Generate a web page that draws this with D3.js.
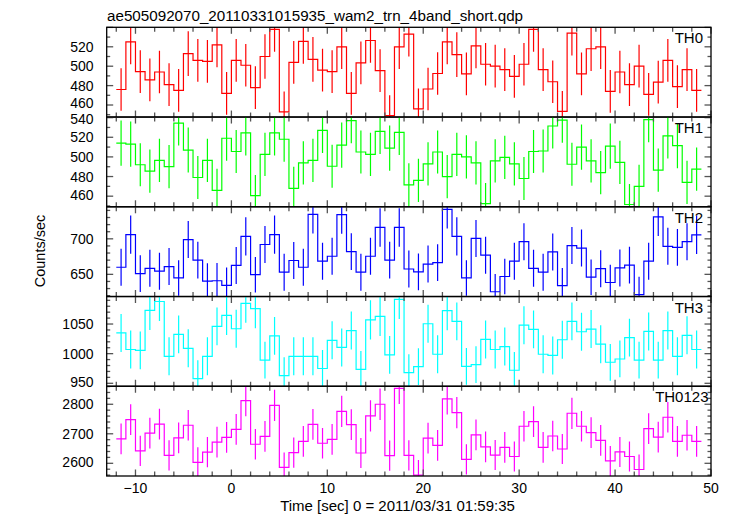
<!DOCTYPE html>
<html><head><meta charset="utf-8">
<script src="https://cdn.jsdelivr.net/npm/d3@7"></script>
<style>
html,body{margin:0;padding:0;background:#fff;}
svg{display:block;font-family:"Liberation Sans",Arial,Helvetica,sans-serif;}
</style></head>
<body>
<svg id="chart" width="733" height="516"></svg>
<script>
// ---------------- data ----------------
const title = "ae505092070_20110331015935_wam2_trn_4band_short.qdp";
const xLabel = "Time [sec] 0 = 2011/03/31 01:59:35";
const yLabel = "Counts/sec";
const xDomain = [-13, 50];
const xTickLabels = [-10, 0, 10, 20, 30, 40, 50];
const binHalfWidth = 0.5;
const time = [-11.5,-10.5,-9.5,-8.5,-7.5,-6.5,-5.5,-4.5,-3.5,-2.5,
  -1.5,-0.5,0.5,1.5,2.5,3.5,4.5,5.5,6.5,7.5,
  8.5,9.5,10.5,11.5,12.5,13.5,14.5,15.5,16.5,17.5,
  18.5,19.5,20.5,21.5,22.5,23.5,24.5,25.5,26.5,27.5,
  28.5,29.5,30.5,31.5,32.5,33.5,34.5,35.5,36.5,37.5,
  38.5,39.5,40.5,41.5,42.5,43.5,44.5,45.5,46.5,47.5,48.5];

const seriesNames = ["TH0", "TH1", "TH2", "TH3", "TH0123"];
const seriesColors = ["#ff0000", "#00ff00", "#0000ff", "#00ffff", "#ff00ff"];

const th0 = [476,525,494.5,486,494,481,475,513,506,505,
  522,472,506,501,478,510,538,453,504,525.5,
  507,496,494.5,520,472,503.5,526.5,495.5,449,520,
  533,456,476.5,492.5,525,512,492,521,502,500,
  496.5,489.5,502,538,496.5,484,453.5,534,492,518,
  520,474,494,481,500,471,483.5,506,479,496.5,475];
const th0Err = [22,23,22,22,22,22,22,23,22,22,
  23,22,22,22,22,23,23,21,22,23,
  23,22,22,23,22,22,23,22,21,23,
  23,21,22,22,23,23,22,23,22,22,
  22,22,22,23,22,22,21,23,22,23,
  23,22,22,22,22,22,22,22,22,22,22];

const th1 = [514,513,492,485.5,496.5,490,534.5,507,479,496.5,
  466,519,505.5,524.5,460.5,502.5,524.5,518,468,494,
  496.5,527,490.5,512,537,505,502.5,526,509,525,
  471.5,476,493,505,480,502.5,500,494,452.5,496,
  499.5,493,478,505.5,506,531.5,537.5,492.5,510,496,
  484,511,494.5,451.5,470,538,486.5,521.5,511.5,474,487.5];
const th1Err = [23,23,22,22,22,22,23,23,22,22,
  22,23,22,23,21,22,23,23,22,22,
  22,23,22,23,23,22,22,23,23,23,
  22,22,22,22,22,22,22,22,21,22,
  22,22,22,22,22,23,23,22,23,22,
  22,23,22,21,22,23,22,23,23,22,22];

const th2 = [660,706,651,658.5,654.5,661,645,699,670,640.5,
  641,634.5,662.5,703.5,649.5,692,706,653,669.5,660,
  734.5,668.5,675.5,734,682,653,675.5,716,670,716,
  657.5,653.5,664.5,666.5,741.5,703.5,645,700.5,677,625.5,
  647,668.5,696,658.5,653,681.5,634,690.5,687,646,
  658,638.5,659,663,621.5,668.5,731,689.5,688,696,705.5];
const th2Err = [26,27,26,26,26,26,25,26,26,25,
  25,25,26,27,25,26,27,26,26,26,
  27,26,26,27,26,26,26,27,26,27,
  26,26,26,26,27,27,25,26,26,25,
  25,26,26,26,26,26,25,26,26,25,
  26,25,26,26,25,26,27,26,26,26,27];

const th3 = [1035,1007,1005.5,1073,1088,995.5,1032.5,1009,958,995.5,
  1046,1064.5,1042,1085,1076,989,1030,963,995.5,995.5,
  995.5,975,1022.5,1010.5,1039,973.5,1057,1063,998,1091.5,
  968,978,1050.5,999,1072.5,1054.5,978.5,981.5,1024,1007,
  1012,972,1048,1041,999,997,1023.5,1054.5,1037,1041.5,
  1016,985.5,991,1027,989,1037.5,989,1039,995.5,1031,1007];
const th3Err = [32,32,32,33,33,32,32,32,31,32,
  32,33,32,33,33,31,32,31,32,32,
  32,31,32,32,32,31,33,33,32,33,
  31,31,32,32,33,32,31,31,32,32,
  32,31,32,32,32,32,32,32,32,32,
  32,31,31,32,31,32,31,32,32,32,32];

const th0123 = [2682.5,2748,2642,2702,2733,2627,2686,2729,2603,2638,
  2672,2688,2715,2812.5,2664.5,2691.5,2796.5,2586,2636,2674.5,
  2732,2668,2681,2776,2731,2635,2760.5,2800,2626,2854,
  2627,2560,2685,2661,2818,2772,2613.5,2696,2655.5,2628,
  2654,2623,2725.5,2741,2654,2692.5,2648.5,2769.5,2725.5,2704,
  2678,2608,2638.5,2623,2579,2717.5,2689,2756,2674.5,2695,2674.5];
const th0123Err = [52,52,51,52,52,51,52,52,51,51,
  52,52,52,53,52,52,53,51,51,52,
  52,52,52,53,52,51,53,53,51,53,
  51,51,52,52,53,53,51,52,52,51,
  52,51,52,52,52,52,51,53,52,52,
  52,51,51,51,51,52,52,52,52,52,52];

const yDomains = [[447.6, 540.1], [449.2, 540.6], [618.8, 745.1], [945, 1096.4], [2557, 2861]];
const yTickLabels = [[460,480,500,520],[460,480,500,520,540],[650,700],[950,1000,1050],[2600,2700,2800]];
const yMajorStep = [20, 20, 50, 50, 100];
const yMinorStep = [10, 10, 10, 10, 20];

const values = [th0, th1, th2, th3, th0123];
const errors = [th0Err, th1Err, th2Err, th3Err, th0123Err];

// ---------------- layout ----------------
const W = 733, H = 516;
const plotL = 106.7, plotR = 711, plotT = 27.3, plotB = 476;
const nP = 5;
const pH = (plotB - plotT) / nP;
const labelRight = [703, 703, 703, 703, 708.5];

const svg = d3.select("#chart");
const x = d3.scaleLinear().domain(xDomain).range([plotL, plotR]);

const defs = svg.append("defs");

for (let p = 0; p < nP; p++) {
  const top = plotT + p * pH, bot = top + pH;
  const y = d3.scaleLinear().domain(yDomains[p]).range([bot, top]);
  const g = svg.append("g");
  const clipId = "clip" + p;
  defs.append("clipPath").attr("id", clipId)
    .append("rect").attr("x", plotL).attr("y", top).attr("width", plotR - plotL).attr("height", pH);

  const data = time.map((t, i) => ({t, v: values[p][i], e: errors[p][i]}));
  const dg = g.append("g").attr("clip-path", `url(#${clipId})`);
  // step line
  const pts = [];
  data.forEach(d => { pts.push([d.t - binHalfWidth, d.v]); pts.push([d.t + binHalfWidth, d.v]); });
  const line = d3.line().x(d => x(d[0])).y(d => y(d[1]));
  dg.append("path").attr("d", line(pts)).attr("fill", "none")
    .attr("stroke", seriesColors[p]).attr("stroke-width", 1.2);
  // error bars
  dg.selectAll("line.err").data(data).join("line").attr("class", "err")
    .attr("x1", d => x(d.t)).attr("x2", d => x(d.t))
    .attr("y1", d => y(d.v - d.e)).attr("y2", d => y(d.v + d.e))
    .attr("stroke", seriesColors[p]).attr("stroke-width", 1.2);

  // x ticks (top and bottom, inward)
  const xt = d3.range(-12, 50.01, 2);
  xt.forEach(t => {
    const len = (t % 10 === 0) ? 6.5 : 4.5;
    g.append("line").attr("x1", x(t)).attr("x2", x(t)).attr("y1", top).attr("y2", top + len)
      .attr("stroke", "#555").attr("stroke-width", 1.3);
    g.append("line").attr("x1", x(t)).attr("x2", x(t)).attr("y1", bot).attr("y2", bot - len)
      .attr("stroke", "#555").attr("stroke-width", 1.3);
  });
  // y ticks (left and right, inward)
  const [y0, y1] = yDomains[p];
  const ms = yMinorStep[p];
  for (let v = Math.ceil(y0 / ms) * ms; v <= y1; v += ms) {
    const major = (v % yMajorStep[p] === 0);
    const len = major ? 6.5 : 3.5;
    g.append("line").attr("x1", plotL).attr("x2", plotL + len).attr("y1", y(v)).attr("y2", y(v))
      .attr("stroke", "#555").attr("stroke-width", 1.3);
    g.append("line").attr("x1", plotR).attr("x2", plotR - len).attr("y1", y(v)).attr("y2", y(v))
      .attr("stroke", "#555").attr("stroke-width", 1.3);
  }
  // y tick labels (nudge labels that sit right at a panel boundary apart)
  g.selectAll("text.yl").data(yTickLabels[p]).join("text").attr("class", "yl")
    .attr("x", 93.5)
    .attr("y", d => {
      let yy = y(d) + 5;
      if (y(d) > bot - 14) yy -= 1.6;
      if (y(d) < top + 3) yy += 1.6;
      return yy;
    })
    .attr("text-anchor", "end")
    .attr("font-size", 14).attr("fill", "#000").text(d => d);
  // frame
  g.append("rect").attr("x", plotL).attr("y", top).attr("width", plotR - plotL).attr("height", pH)
    .attr("fill", "none").attr("stroke", "#000").attr("stroke-width", 1.3);
  // panel label
  g.append("text").attr("x", labelRight[p]).attr("y", top + 16).attr("text-anchor", "end")
    .attr("font-size", 15).attr("fill", "#000").text(seriesNames[p]);
}

// x tick labels
svg.selectAll("text.xl").data(xTickLabels).join("text").attr("class", "xl")
  .attr("x", d => x(d)).attr("y", 493).attr("text-anchor", "middle")
  .attr("font-size", 14).attr("fill", "#000")
  .text(d => d < 0 ? "\u2212" + Math.abs(d) : d);

// title
svg.append("text").attr("x", 107).attr("y", 20.5).attr("font-size", 15.2).attr("fill", "#000").text(title);
// x label
svg.append("text").attr("x", 397.5).attr("y", 510.5).attr("text-anchor", "middle")
  .attr("font-size", 15).attr("fill", "#000").text(xLabel);
// y label
svg.append("text").attr("transform", "translate(45,251) rotate(-90)").attr("text-anchor", "middle")
  .attr("font-size", 14.5).attr("fill", "#000").text(yLabel);
</script>
</body></html>
